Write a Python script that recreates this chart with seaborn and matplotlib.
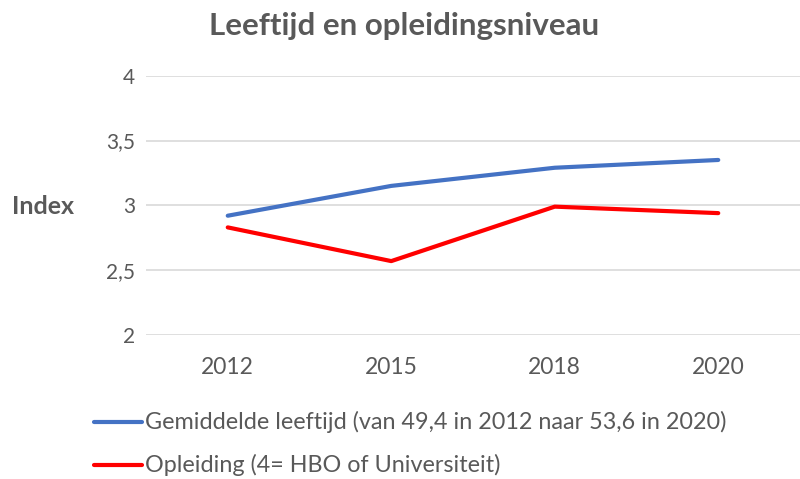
import pandas as pd
import matplotlib
matplotlib.use('Agg')
import matplotlib.pyplot as plt
import seaborn as sns

jaren = ['2012', '2015', '2018', '2020']
leeftijd = [2.92, 3.15, 3.29, 3.35]
opleiding = [2.83, 2.57, 2.99, 2.94]
namen = ['Gemiddelde leeftijd (van 49,4 in 2012 naar 53,6 in 2020)',
         'Opleiding (4= HBO of Universiteit)']
yticks = [2, 2.5, 3, 3.5, 4]
ylabels = ['2', '2,5', '3', '3,5', '4']

df = pd.DataFrame({
    'jaar': jaren * 2,
    'index': leeftijd + opleiding,
    'reeks': [namen[0]] * 4 + [namen[1]] * 4,
})

sns.set_style('white')
plt.rcParams['font.family'] = ['Lato', 'DejaVu Sans']
grijs = '#595959'

fig = plt.figure(figsize=(8, 4.79), dpi=100)
ax = fig.add_axes([0.1825, 0.3006, 0.8175, 0.5414])

sns.lineplot(data=df, x='jaar', y='index', hue='reeks',
             palette=['#4472C4', '#FF0000'], linewidth=3, sort=False,
             ax=ax, legend=False)

ax.set_ylim(2, 4)
ax.set_xlim(-0.5, 3.5)
ax.set_yticks(yticks)
ax.set_yticklabels(ylabels)
ax.grid(axis='y', color='#d9d9d9', linewidth=1.2)
ax.grid(axis='x', visible=False)
for s in ax.spines.values():
    s.set_visible(False)
ax.tick_params(axis='both', length=0, colors=grijs)
ax.tick_params(axis='y', pad=8, labelsize=15)
ax.tick_params(axis='x', pad=16, labelsize=16.5)
ax.set_xlabel('')
ax.set_ylabel('')

fig.text(12 / 800, 1 - 207 / 479, 'Index', fontsize=18, fontweight='bold',
         color=grijs, ha='left', va='center')
fig.text(0.505, 1 - 26 / 479, 'Leeftijd en opleidingsniveau', fontsize=22.5,
         fontweight='bold', color=grijs, ha='center', va='center')

# legenda onderaan, handmatig
kleuren = ['#4472C4', '#FF0000']
for i, naam in enumerate(namen):
    y = 1 - (422 + 43 * i) / 479
    fig.add_artist(plt.Line2D([0.117, 0.178], [y, y], color=kleuren[i],
                              linewidth=3, transform=fig.transFigure))
    fig.text(0.181, y, naam, fontsize=16.8, color=grijs, ha='left', va='center')

fig.savefig('out.png', dpi=100)
